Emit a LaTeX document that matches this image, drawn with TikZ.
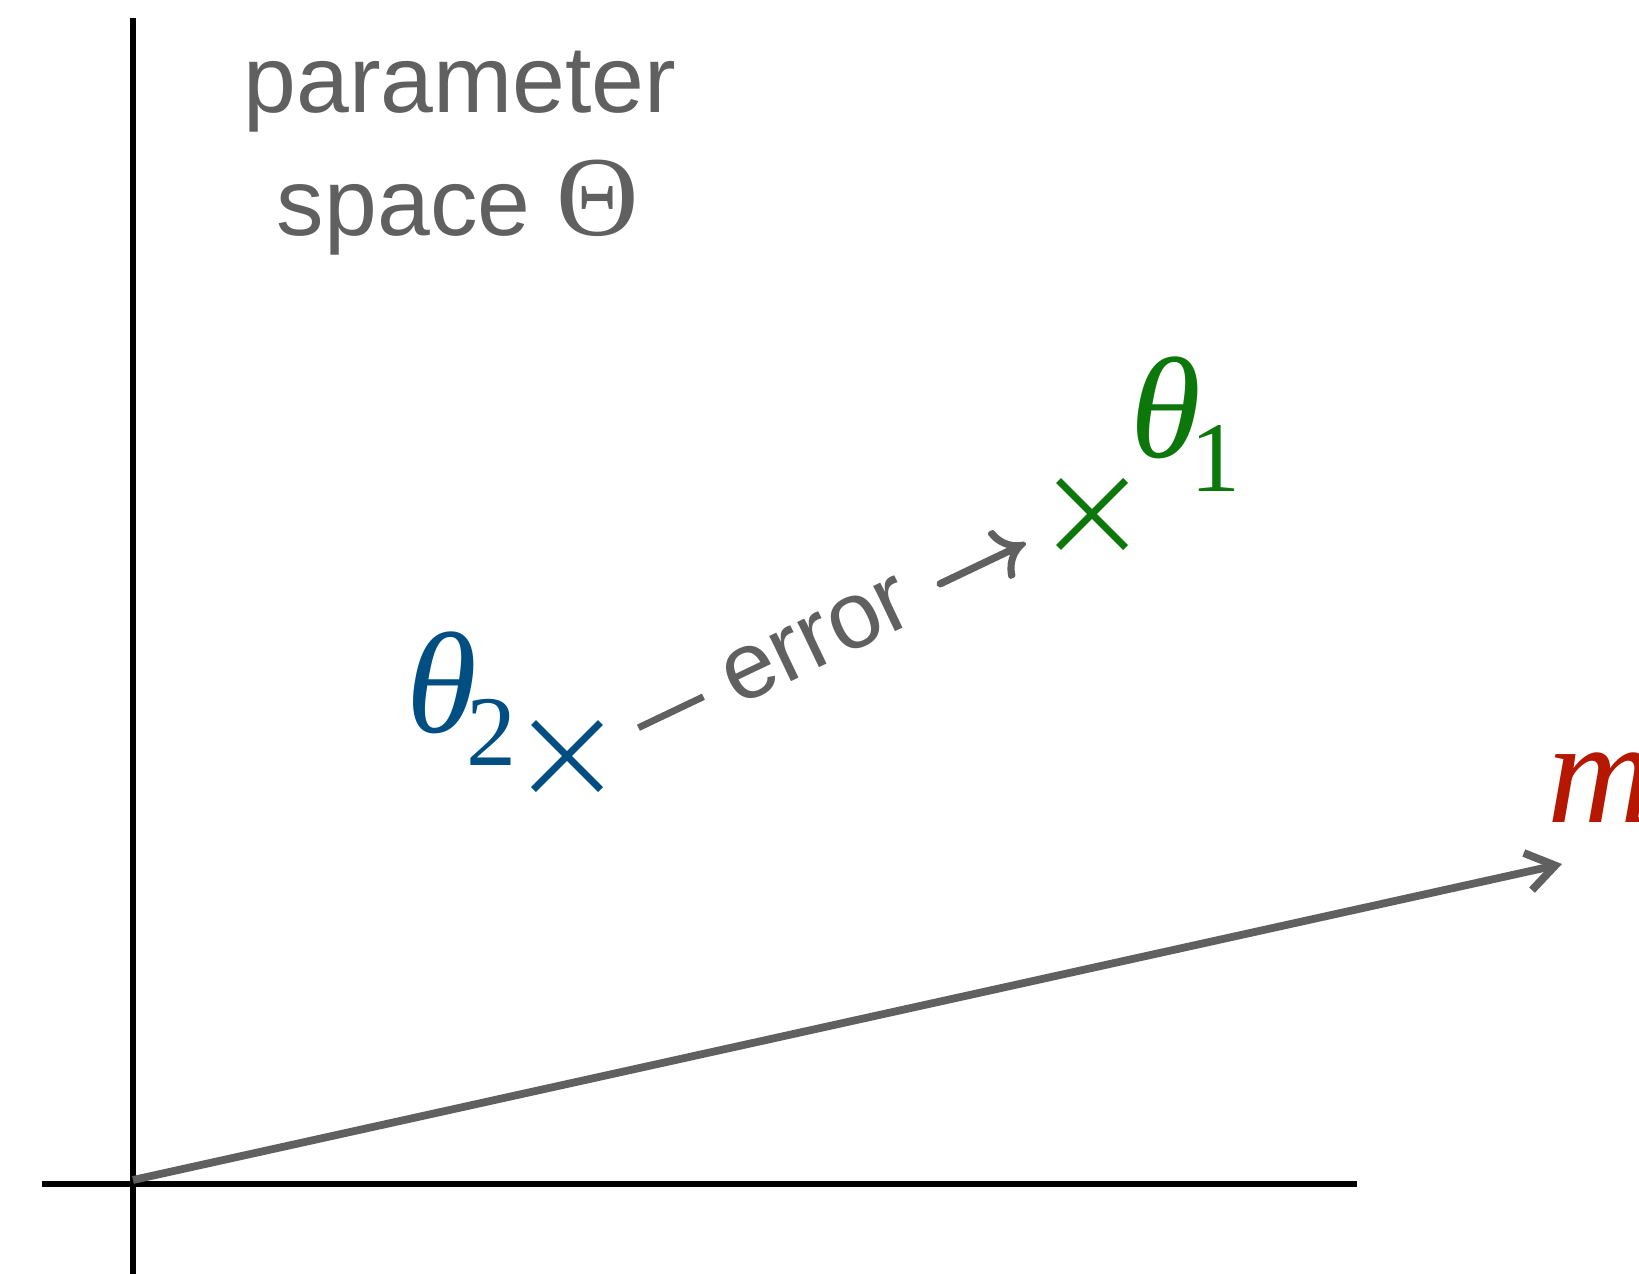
\documentclass[tikz,border=0pt]{standalone}
\usepackage{fontspec}
\usepackage{graphicx}
\setmainfont{Liberation Sans}
\newfontfamily\tnr{Liberation Serif}
\usetikzlibrary{arrows.meta,shapes.misc}
\definecolor{txtgray}{RGB}{96,96,96}
\definecolor{thblue}{RGB}{0,78,130}
\definecolor{thgreen}{RGB}{12,120,12}
\definecolor{mred}{RGB}{181,23,0}
\newcommand{\thickarrow}{\scalebox{4.75}{\special{pdf:literal direct 2 Tr 0.16 w}\fontsize{10}{12}\selectfont\boldmath$\rightarrow$\special{pdf:literal direct 0 Tr}}}
\begin{document}
\begin{tikzpicture}[x=0.5pt,y=-0.5pt,
  axis/.style={line width=3pt,black},
  vec/.style={line width=3.9pt,txtgray,-{Straight Barb[length=14pt,width=19pt]}},
  xmark/.style={cross out,draw,line width=3.5pt,minimum size=30pt,inner sep=0pt},
  lbl/.style={inner sep=0pt,outer sep=0pt}]
\useasboundingbox (0,0) rectangle (1639,1274);
\coordinate (ytop) at (133,18);
\coordinate (ybot) at (133,1274);
\coordinate (xl) at (42,1184);
\coordinate (xr) at (1357,1184);
\coordinate (O) at (133,1180);
\coordinate (tip) at (1562,864);
\draw[axis] (ybot) -- (ytop);
\draw[axis] (xl) -- (xr);
\draw[vec] (O) -- (tip);
\node[xmark,draw=thblue] (c2) at (567,756) {};
\node[xmark,draw=thgreen] (c1) at (1092,514) {};
\node[lbl,anchor=base west,text=thblue] (t2) at (406,732)
  {\fontsize{72}{72}\selectfont\tnr\itshape θ\kern-5pt\raisebox{-16.5pt}{\upshape\fontsize{50}{50}\selectfont 2}};
\node[lbl,anchor=base west,text=thgreen] (t1) at (1130,457)
  {\fontsize{72}{72}\selectfont\tnr\itshape θ\kern-5pt\raisebox{-17pt}{\upshape\fontsize{50}{50}\selectfont 1}};
\node[lbl,anchor=base west,text=mred] (m) at (1547,822)
  {\fontsize{74}{74}\selectfont\tnr\itshape m};
\node[lbl,anchor=base,text=txtgray] (p1) at (460,112)
  {\fontsize{47.5}{47.5}\selectfont parameter};
\node[lbl,anchor=base,text=txtgray] (p2) at (458,235)
  {\fontsize{47.5}{47.5}\selectfont space {\tnr\fontsize{57}{57}\selectfont Θ}};
\node[lbl,rotate=25.5,text=txtgray] (err) at (834,633)
  {\fontsize{47.5}{47.5}\selectfont\rule[10.2pt]{36pt}{3.4pt} error \thickarrow};
\end{tikzpicture}
\end{document}
